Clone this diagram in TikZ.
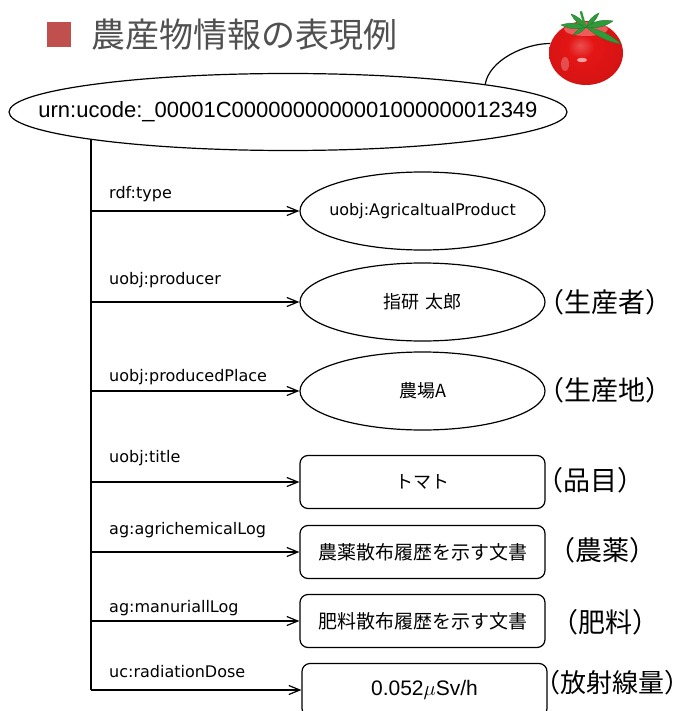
\documentclass[tikz,border=0pt]{standalone}
\usepackage{fontspec}
\setmainfont{Liberation Sans}
\newfontfamily\jpfont{Noto Sans CJK JP}
\newfontfamily\lblfont{DejaVu Sans}
\usetikzlibrary{arrows.meta,shapes.geometric,calc}

\definecolor{titlegray}{HTML}{505050}
\definecolor{bulletred}{HTML}{C0504D}
\definecolor{tomred}{HTML}{E41515}
\definecolor{leafgreen}{HTML}{2F9A3A}

% tomato body: bright centre, darker rim
\pgfdeclareradialshading{tomshade}{\pgfpoint{-4bp}{6bp}}{%
  color(0bp)=(tomred!75!white);
  color(9bp)=(tomred);
  color(26bp)=(tomred!94!black);
  color(36bp)=(tomred!75!black);
  color(50bp)=(tomred!55!black)}

\tikzset{
  objell/.style={ellipse, draw, line width=1.2pt, minimum width=245pt,
    minimum height=78pt, inner sep=0pt},
  objbox/.style={rectangle, rounded corners=8pt, draw, line width=1.2pt,
    minimum width=245pt, minimum height=53pt, inner sep=0pt},
  rel/.style={draw, line width=1.2pt,
    -{Straight Barb[length=11pt,width=9pt,line width=1.2pt]}},
  trunk/.style={draw, line width=1.8pt},
  link/.style={draw, line width=1.2pt},
  rellabel/.style={anchor=base west, inner sep=0pt,
    font=\lblfont\fontsize{16}{19}\selectfont},
  objlatin/.style={inner sep=0pt, font=\lblfont\fontsize{16}{19}\selectfont},
  objjp/.style={inner sep=0pt, font=\jpfont\fontsize{18}{22}\selectfont},
  note/.style={anchor=west, inner sep=0pt,
    font=\jpfont\fontsize{27}{32}\selectfont},
  leaf/.style={fill=leafgreen, draw=leafgreen!80!black, line width=0.4pt}
}

\begin{document}
\begin{tikzpicture}[x=1pt,y=-1pt]
\useasboundingbox (0,0) rectangle (692,711);

% heading
\fill[bulletred] (47,22) rectangle (71,47);
\node[anchor=west, inner sep=0pt, text=titlegray,
  font=\jpfont\fontsize{34}{40}\selectfont] (title) at (91,35) {農産物情報の表現例};

% subject resource
\node[objell, minimum width=558pt, minimum height=77pt] (subj) at (288,112) {};
\node[inner sep=0pt, font=\fontsize{22}{26}\selectfont] (subjtext) at (subj.center)
  {urn:ucode:\_00001C0000000000001000000012349};

% tomato picture
\node[ellipse, minimum width=74pt, minimum height=64pt, inner sep=0pt,
  shading=tomshade] (tomato) at (586,53) {};
\fill[white, opacity=0.6] (582,60) ellipse [x radius=5, y radius=2.2];
\fill[white, opacity=0.25] (565,64) ellipse [x radius=4, y radius=7];
\fill[red!30!white, opacity=0.45] (586,29) ellipse [x radius=22, y radius=7];
\path[leaf] (586,27) to[bend left=22] (561,25) to[bend left=22] (586,27);
\path[leaf] (586,27) to[bend left=22] (571,14) to[bend left=22] (586,27);
\path[leaf] (586,27) to[bend left=22] (599,13) to[bend left=22] (586,27);
\path[leaf] (586,27) to[bend left=22] (613,21) to[bend left=22] (586,27);
\path[leaf] (586,27) to[bend left=15] (621,44) to[bend left=15] (586,27);
\path[leaf] (586,27) to[bend left=22] (573,35) to[bend left=22] (586,27);
\draw[leafgreen, line width=2.4pt, line cap=round] (585,26) -- (581,12);

\draw[link] (subj.8) .. controls +(4,-24) and +(-26,0) .. (tomato.165);

% objects
\node[objell] (o1) at (422.5,211) {};
\node[objlatin] at (o1.center) {uobj:AgricaltualProduct};
\node[objell] (o2) at (422.5,302) {};
\node[objjp] at (o2.center) {指研\hspace{0.3em}太郎};
\node[objell] (o3) at (422.5,391) {};
\node[objjp] at (o3.center) {農場A};
\node[objbox, font=\jpfont\fontsize{18}{22}\selectfont] (o4) at (422.5,482) {トマト};
\node[objbox, font=\jpfont\fontsize{19}{22}\selectfont] (o5) at (422.5,552) {農薬散布履歴を示す文書};
\node[objbox, font=\jpfont\fontsize{19}{22}\selectfont] (o6) at (422.5,621) {肥料散布履歴を示す文書};
\node[objbox, font=\fontsize{21}{25}\selectfont] (o7) at (424.5,690) {0.052$\mu$Sv/h};

% property connectors
\coordinate (trunktop) at (subj.188);
\draw[trunk] (trunktop) -- (trunktop |- o7.west);
\foreach \o in {o1,o2,o3,o4,o5,o6,o7}
  \draw[rel] (trunktop |- \o.west) -- (\o.west);

% property names
\node[rellabel] (p1) at (109,199) {rdf:type};
\node[rellabel] (p2) at (109,284) {uobj:producer};
\node[rellabel] (p3) at (109,381) {uobj:producedPlace};
\node[rellabel] (p4) at (109,462) {uobj:title};
\node[rellabel] (p5) at (109,534) {ag:agrichemicalLog};
\node[rellabel] (p6) at (109,612) {ag:manuriallLog};
\node[rellabel] (p7) at (109,677) {uc:radiationDose};

% annotations
\node[note] (n2) at (537,302) {（生産者）};
\node[note] (n3) at (537,390) {（生産地）};
\node[note] (n4) at (536,480) {（品目）};
\node[note] (n5) at (548,550) {（農薬）};
\node[note] (n6) at (551,622) {（肥料）};
\node[note, font=\jpfont\fontsize{26}{31}\selectfont] (n7) at (534,683) {（放射線量）};
\end{tikzpicture}
\end{document}
